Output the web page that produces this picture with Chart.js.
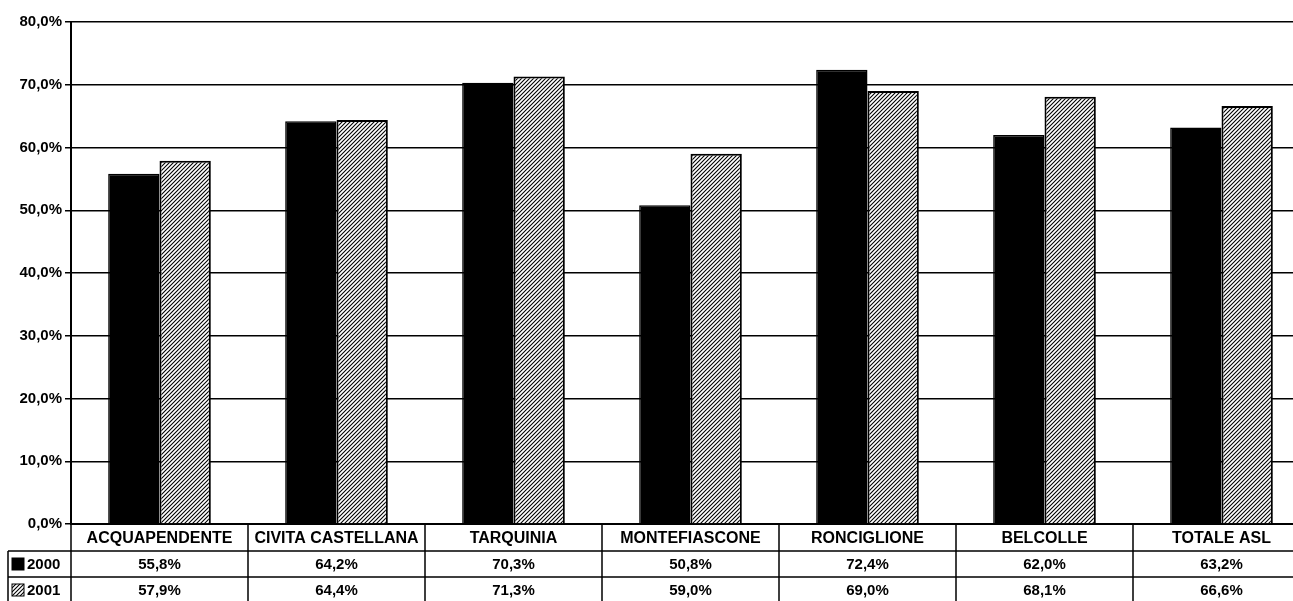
<!DOCTYPE html>
<html>
<head>
<meta charset="utf-8">
<script src="https://cdn.jsdelivr.net/npm/chart.js@4/dist/chart.umd.min.js"></script>
<style>
  html, body { margin: 0; padding: 0; background: #fff; overflow: hidden; }
  #wrap { width: 1310px; height: 601px; }
</style>
</head>
<body>
<div id="wrap"><canvas id="chart" width="1310" height="601"></canvas></div>
<script>
const CATEGORIES = ["ACQUAPENDENTE", "CIVITA CASTELLANA", "TARQUINIA", "MONTEFIASCONE", "RONCIGLIONE", "BELCOLLE", "TOTALE ASL"];
const SERIES     = ["2000", "2001"];
const VALUES_2000 = [55.8, 64.2, 70.3, 50.8, 72.4, 62.0, 63.2];
const VALUES_2001 = [57.9, 64.4, 71.3, 59.0, 69.0, 68.1, 66.6];
const Y_MIN = 0, Y_MAX = 80, Y_STEP = 10;

const FONT = "'Liberation Sans', Arial, sans-serif";
const fmtPct = (v) => v.toFixed(1).replace(".", ",") + "%";

// hatch "////" per la serie 2001
function makeHatch() {
  const c = document.createElement("canvas");
  c.width = 4; c.height = 4;
  const g = c.getContext("2d");
  g.fillStyle = "#fff";
  g.fillRect(0, 0, 4, 4);
  g.strokeStyle = "#000";
  g.lineWidth = 1.1;
  g.beginPath();
  g.moveTo(0, 4); g.lineTo(4, 0);
  g.moveTo(-1, 1); g.lineTo(1, -1);
  g.moveTo(3, 5); g.lineTo(5, 3);
  g.stroke();
  return g.createPattern(c, "repeat");
}
const HATCH = makeHatch();

// tabella dati sotto l'asse x
const dataTable = {
  id: "dataTable",
  afterDraw(chart) {
    const { ctx, chartArea } = chart;
    const xs = chart.scales.x;
    const half = xs.width / CATEGORIES.length / 2;
    const left = chartArea.left;
    const r0 = chartArea.bottom, r1 = r0 + 27, r2 = r1 + 26, r3 = r2 + 26;
    const keyX = 8;

    ctx.save();
    ctx.strokeStyle = "#000";
    ctx.lineWidth = 1.5;
    ctx.beginPath();
    // righe orizzontali
    ctx.moveTo(keyX, r1); ctx.lineTo(chart.width, r1);
    ctx.moveTo(keyX, r2); ctx.lineTo(chart.width, r2);
    // colonna legenda
    ctx.moveTo(keyX, r1); ctx.lineTo(keyX, chart.height);
    ctx.moveTo(left, r0); ctx.lineTo(left, chart.height);
    // separatori colonne
    CATEGORIES.forEach((_, i) => {
      const x = xs.getPixelForValue(i) + half;
      ctx.moveTo(x, r0); ctx.lineTo(x, chart.height);
    });
    ctx.stroke();

    ctx.fillStyle = "#000";
    ctx.textAlign = "center";
    ctx.textBaseline = "middle";
    CATEGORIES.forEach((cat, i) => {
      const cx = xs.getPixelForValue(i);
      ctx.font = `bold 16px ${FONT}`;
      ctx.fillText(cat, cx, (r0 + r1) / 2 + 1);
      ctx.font = `bold 15px ${FONT}`;
      ctx.fillText(fmtPct(VALUES_2000[i]), cx, (r1 + r2) / 2 + 1);
      ctx.fillText(fmtPct(VALUES_2001[i]), cx, (r2 + r3) / 2 + 1);
    });

    // chiavi legenda
    const keys = [["#000", r1], [HATCH, r2]];
    keys.forEach(([fill, top], k) => {
      const y = (top + top + 26) / 2;
      ctx.fillStyle = fill;
      ctx.fillRect(12, y - 6, 12, 12);
      ctx.lineWidth = 1;
      ctx.strokeRect(12, y - 6, 12, 12);
      ctx.fillStyle = "#000";
      ctx.textAlign = "left";
      ctx.font = `bold 15px ${FONT}`;
      ctx.fillText(SERIES[k], 27, y + 1);
    });
    ctx.restore();
  },
};

new Chart(document.getElementById("chart").getContext("2d"), {
  type: "bar",
  data: {
    labels: CATEGORIES,
    datasets: [
      { label: SERIES[0], data: VALUES_2000, backgroundColor: "#000", borderColor: "#000", borderWidth: 1.5, borderSkipped: "bottom" },
      { label: SERIES[1], data: VALUES_2001, backgroundColor: HATCH,  borderColor: "#000", borderWidth: 2,   borderSkipped: "bottom" },
    ],
  },
  options: {
    responsive: false,
    animation: false,
    devicePixelRatio: 1,
    layout: { padding: { top: 22, left: 0, right: 0, bottom: 0 } },
    datasets: { bar: { categoryPercentage: 0.58, barPercentage: 1.0 } },
    plugins: { legend: { display: false }, tooltip: { enabled: false } },
    scales: {
      x: {
        ticks: { display: false },
        grid: { display: false },
        border: { display: true, color: "#000", width: 2 },
        afterFit: (s) => { s.height = 77; },
      },
      y: {
        min: Y_MIN, max: Y_MAX,
        ticks: { stepSize: Y_STEP, color: "#000", font: { family: FONT, size: 15, weight: "bold" }, padding: 3, callback: (v) => fmtPct(v) },
        grid: { color: "#000", lineWidth: 1.5, tickLength: 6 },
        border: { display: true, color: "#000", width: 2 },
        afterFit: (s) => { s.width = 71; },
      },
    },
  },
  plugins: [dataTable],
});
</script>
</body>
</html>
